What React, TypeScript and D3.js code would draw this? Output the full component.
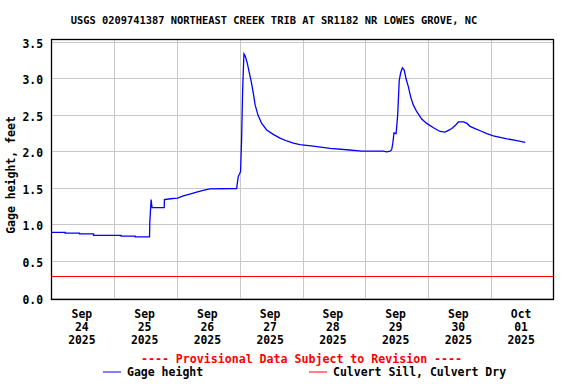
import * as d3 from 'd3';
import React, { useEffect, useRef } from 'react';

const title = 'USGS 0209741387 NORTHEAST CREEK TRIB AT SR1182 NR LOWES GROVE, NC';
const yTitle = 'Gage height, feet';
const provisionalNote = '---- Provisional Data Subject to Revision ----';
const seriesNames = ['Gage height', 'Culvert Sill, Culvert Dry'];

// hours after 2025-09-24 00:00
const gageHours = [
  0, 5.2, 5.2, 10.7, 10.7, 16.1, 16.1, 26.6, 26.6, 32, 32, 37.5, 37.6, 38.1, 38.3, 38.5, 43.1, 43.2,
  45.5, 48.2, 50.4, 52.9, 55.5, 58, 60.6, 70.8, 71.4, 72.3, 72.7, 73.1, 73.6, 74.1, 74.9, 75.6, 76.4,
  77.2, 77.9, 79, 80.4, 82.3, 84.8, 87.4, 90, 92.5, 95, 100.1, 106.5, 112.9, 118.7, 126.9, 128.2,
  129.5, 130.1, 130.5, 131, 131.8, 132.4, 133, 133.6, 134.2, 134.9, 135.6, 136.5, 137.4, 138.4, 139.7,
  141.6, 143.5, 146.1, 148.6, 150.5, 151.8, 153.1, 154.4, 155.6, 157.6, 158.9, 160.1, 162, 164, 166.5,
  169, 171.6, 174.2, 178, 181.2,
];
const gageFeet = [
  0.89, 0.89, 0.88, 0.88, 0.87, 0.87, 0.85, 0.85, 0.84, 0.84, 0.83, 0.83, 1.03, 1.34, 1.27, 1.23, 1.23,
  1.34, 1.35, 1.36, 1.39, 1.415, 1.44, 1.465, 1.485, 1.49, 1.65, 1.72, 2.15, 2.84, 3.33, 3.3, 3.2, 3.08,
  2.95, 2.79, 2.63, 2.49, 2.38, 2.29, 2.23, 2.18, 2.14, 2.11, 2.09, 2.07, 2.04, 2.02, 2.0, 2.0, 1.99,
  2.0, 2.02, 2.1, 2.25, 2.24, 2.49, 2.97, 3.08, 3.14, 3.11, 2.99, 2.88, 2.74, 2.63, 2.54, 2.44, 2.38,
  2.32, 2.27, 2.26, 2.285, 2.31, 2.35, 2.4, 2.4, 2.38, 2.34, 2.31, 2.28, 2.24, 2.21, 2.19, 2.17, 2.145,
  2.12,
];
const culvertSill = 0.3;

const yTicks = [0, 0.5, 1, 1.5, 2, 2.5, 3, 3.5];
const dayMonths = ['Sep', 'Sep', 'Sep', 'Sep', 'Sep', 'Sep', 'Sep', 'Oct'];
const dayNumbers = ['24', '25', '26', '27', '28', '29', '30', '01'];
const dayYears = ['2025', '2025', '2025', '2025', '2025', '2025', '2025', '2025'];

const FONT = '"DejaVu Sans Mono", monospace';

export default function App() {
  const ref = useRef<SVGSVGElement | null>(null);

  useEffect(() => {
    const svg = d3.select(ref.current);
    svg.selectAll('*').remove();

    const width = 576;
    const height = 384;
    const left = 51.5;
    const right = 553.5;
    const top = 39.5;
    const bottom = 299.5;

    const start = new Date(Date.UTC(2025, 8, 24));
    const end = new Date(Date.UTC(2025, 9, 2));
    const x = d3.scaleUtc().domain([start, end]).range([left, right]);
    const y = d3.scaleLinear().domain([0, 3.5]).range([297.5, 41.5]);
    const atHour = (h: number) => new Date(start.getTime() + h * 3600 * 1000);

    svg.append('rect').attr('width', width).attr('height', height).attr('fill', '#fff');

    // grid
    yTicks.forEach(t => {
      svg
        .append('line')
        .attr('x1', left)
        .attr('x2', right)
        .attr('y1', Math.round(y(t)) + 0.5)
        .attr('y2', Math.round(y(t)) + 0.5)
        .attr('stroke', '#c8c8c8')
        .attr('stroke-width', 1);
    });
    const midnights = d3.utcDay.range(d3.utcDay.offset(start, 1), end);
    midnights.forEach(d => {
      svg
        .append('line')
        .attr('x1', Math.round(x(d)) + 0.5)
        .attr('x2', Math.round(x(d)) + 0.5)
        .attr('y1', top)
        .attr('y2', bottom)
        .attr('stroke', '#c8c8c8')
        .attr('stroke-width', 1);
    });

    // culvert sill reference
    svg
      .append('line')
      .attr('x1', left)
      .attr('x2', right)
      .attr('y1', Math.round(y(culvertSill)) + 0.5)
      .attr('y2', Math.round(y(culvertSill)) + 0.5)
      .attr('stroke', '#ff0000')
      .attr('stroke-width', 1);

    // gage height line
    const points = gageHours.map((h, i) => [atHour(h), gageFeet[i]] as [Date, number]);
    const line = d3
      .line<[Date, number]>()
      .x(d => x(d[0]))
      .y(d => y(d[1]));
    svg
      .append('path')
      .datum(points)
      .attr('d', line)
      .attr('fill', 'none')
      .attr('stroke', '#0000ff')
      .attr('stroke-width', 1.3);

    // frame
    svg
      .append('rect')
      .attr('x', left)
      .attr('y', top)
      .attr('width', right - left)
      .attr('height', bottom - top)
      .attr('fill', 'none')
      .attr('stroke', '#000')
      .attr('stroke-width', 1.3);

    // y tick labels
    yTicks.forEach(t => {
      svg
        .append('text')
        .attr('x', 43)
        .attr('y', y(t) + 6)
        .attr('text-anchor', 'end')
        .attr('font-family', FONT)
        .attr('font-weight', 'bold')
        .attr('font-size', '11.4px')
        .text(t.toFixed(1));
    });

    // x tick labels at noon
    const noons = d3.utcDay.range(start, end).map(d => d3.utcHour.offset(d, 12));
    noons.forEach((d, i) => {
      const g = svg
        .append('text')
        .attr('text-anchor', 'middle')
        .attr('font-family', FONT)
        .attr('font-weight', 'bold')
        .attr('font-size', '11.4px');
      [dayMonths[i], dayNumbers[i], dayYears[i]].forEach((s, k) => {
        g.append('tspan')
          .attr('x', x(d) - 1)
          .attr('y', 318 + k * 13)
          .text(s);
      });
    });

    // title
    svg
      .append('text')
      .attr('x', 274)
      .attr('y', 24)
      .attr('text-anchor', 'middle')
      .attr('font-family', FONT)
      .attr('font-weight', 'bold')
      .attr('font-size', '10.4px')
      .text(title);

    // y axis title
    svg
      .append('text')
      .attr('transform', 'translate(15,175) rotate(-90)')
      .attr('text-anchor', 'middle')
      .attr('font-family', FONT)
      .attr('font-weight', 'bold')
      .attr('font-size', '11.5px')
      .text(yTitle);

    // provisional note
    svg
      .append('text')
      .attr('x', 301.5)
      .attr('y', 363)
      .attr('text-anchor', 'middle')
      .attr('font-family', FONT)
      .attr('font-weight', 'bold')
      .attr('font-size', '11.6px')
      .attr('fill', '#ff0000')
      .text(provisionalNote);

    // legend
    const legendColors = ['#0000ff', '#ff0000'];
    const legendX = [103, 309];
    seriesNames.forEach((name, i) => {
      svg
        .append('line')
        .attr('x1', legendX[i])
        .attr('x2', legendX[i] + 18)
        .attr('y1', 372)
        .attr('y2', 372)
        .attr('stroke', legendColors[i])
        .attr('stroke-width', 1);
      svg
        .append('text')
        .attr('x', legendX[i] + 24)
        .attr('y', 376)
        .attr('font-family', FONT)
        .attr('font-weight', 'bold')
        .attr('font-size', '11.5px')
        .text(name);
    });
  }, []);

  return (
    <svg
      ref={ref}
      width={576}
      height={384}
      style={{ position: 'absolute', left: 0, top: 0, display: 'block' }}
    />
  );
}
